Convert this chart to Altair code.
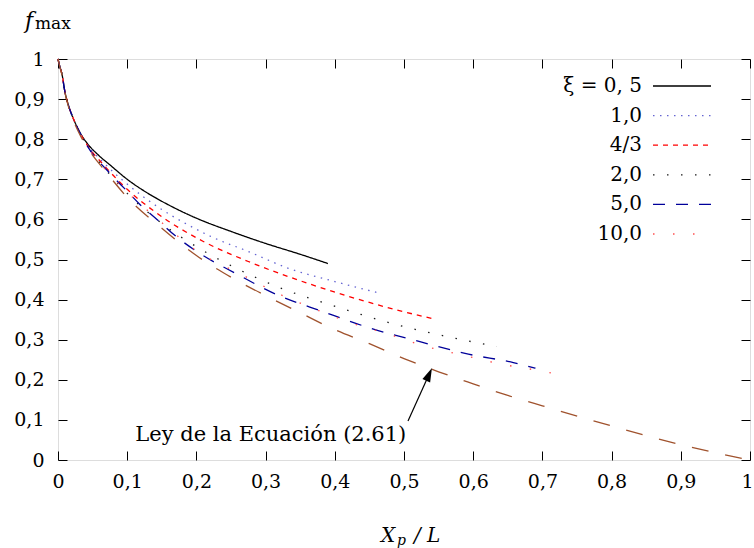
import altair as alt
import pandas as pd

# ---------------- data ----------------
xi_labels = ["ξ = 0, 5", "1,0", "4/3", "2,0", "5,0", "10,0"]
xi_colors = ["#000000", "#6464d2", "#ff0000", "#1a1a1a", "#00009a", "#ff5050"]
xi_dashes = [[1, 0], [1.5, 5.5], [5, 5], [1.5, 12.5], [12, 11], [1.5, 18.5]]

x_05 = [0, 0.002, 0.006, 0.01, 0.015, 0.022, 0.032, 0.042, 0.058, 0.075, 0.1, 0.13, 0.16, 0.2,
        0.25, 0.3, 0.35, 0.39]
y_05 = [1.0, 0.985, 0.96, 0.918, 0.885, 0.852, 0.816, 0.79, 0.761, 0.736, 0.7, 0.665, 0.636, 0.603,
        0.57, 0.54, 0.513, 0.49]

x_10 = [0, 0.002, 0.006, 0.01, 0.015, 0.022, 0.032, 0.042, 0.068, 0.1, 0.147, 0.184, 0.224, 0.275,
        0.333, 0.4, 0.465]
y_10 = [1.0, 0.985, 0.96, 0.918, 0.885, 0.852, 0.815, 0.788, 0.738, 0.688, 0.628, 0.59, 0.555, 0.52,
        0.478, 0.445, 0.416]

x_43 = [0, 0.002, 0.006, 0.01, 0.015, 0.022, 0.032, 0.042, 0.068, 0.1, 0.14, 0.21, 0.275, 0.35,
        0.42, 0.49, 0.54]
y_43 = [1.0, 0.985, 0.96, 0.918, 0.885, 0.852, 0.815, 0.786, 0.732, 0.675, 0.619, 0.545, 0.495, 0.447,
        0.408, 0.374, 0.353]

x_20 = [0, 0.002, 0.006, 0.01, 0.015, 0.022, 0.032, 0.042, 0.068, 0.1, 0.15, 0.217, 0.253, 0.326,
        0.403, 0.477, 0.556, 0.634]
y_20 = [1.0, 0.985, 0.96, 0.918, 0.885, 0.852, 0.815, 0.785, 0.726, 0.665, 0.59, 0.515, 0.482, 0.426,
        0.382, 0.343, 0.31, 0.283]

x_50 = [0, 0.002, 0.006, 0.01, 0.015, 0.022, 0.032, 0.042, 0.075, 0.099, 0.118, 0.143, 0.171, 0.205,
        0.256, 0.318, 0.383, 0.451, 0.523, 0.593, 0.658, 0.69]
y_50 = [1.0, 0.985, 0.96, 0.918, 0.885, 0.852, 0.815, 0.784, 0.715, 0.672, 0.638, 0.6, 0.557, 0.515,
        0.466, 0.411, 0.37, 0.329, 0.295, 0.264, 0.243, 0.229]

x_100 = [0, 0.002, 0.006, 0.01, 0.015, 0.022, 0.032, 0.042, 0.075, 0.1, 0.15, 0.2, 0.268, 0.316,
         0.369, 0.422, 0.477, 0.53, 0.586, 0.641, 0.698, 0.725]
y_100 = [1.0, 0.985, 0.96, 0.918, 0.885, 0.852, 0.815, 0.784, 0.712, 0.668, 0.592, 0.522, 0.46, 0.417,
         0.378, 0.343, 0.314, 0.284, 0.261, 0.239, 0.222, 0.213]

x_ley = [0, 0.002, 0.006, 0.01, 0.015, 0.022, 0.032, 0.042, 0.07, 0.1, 0.15, 0.2, 0.25, 0.3, 0.35,
         0.4, 0.45, 0.5, 0.55, 0.6, 0.65, 0.7, 0.8, 0.9, 1.0]
y_ley = [1.0, 0.985, 0.958, 0.916, 0.882, 0.848, 0.81, 0.78, 0.717, 0.655, 0.578, 0.51, 0.456, 0.41,
         0.367, 0.325, 0.29, 0.253, 0.22, 0.19, 0.161, 0.135, 0.085, 0.038, 0.0]

tick_values = [0, 0.1, 0.2, 0.3, 0.4, 0.5, 0.6, 0.7, 0.8, 0.9, 1.0]

annot_text = ["Ley de la Ecuación (2.61)"]
annot_xy = [0.3075, 0.062]
arrow_tail = [0.5058, 0.0973]
arrow_end = [0.5332, 0.202]
arrow_head = [0.5363, 0.2135]

# ---------------- tables ----------------
rows = []
for lab, xs, ys in zip(xi_labels, [x_05, x_10, x_43, x_20, x_50, x_100],
                       [y_05, y_10, y_43, y_20, y_50, y_100]):
    for i, (a, b) in enumerate(zip(xs, ys)):
        rows.append({"serie": lab, "x": a, "y": b, "ord": i})
df = pd.DataFrame(rows)
df_ley = pd.DataFrame({"x": x_ley, "y": y_ley, "ord": list(range(len(x_ley)))})
df_annot = pd.DataFrame({"x": [annot_xy[0]], "y": [annot_xy[1]], "t": annot_text})
df_arrow = pd.DataFrame({"x": [arrow_tail[0]], "y": [arrow_tail[1]],
                         "x2": [arrow_end[0]], "y2": [arrow_end[1]]})
df_head = pd.DataFrame({"x": [arrow_head[0]], "y": [arrow_head[1]]})

FONT = "DejaVu Serif"
xs_scale = alt.Scale(domain=[0, 1], nice=False, zero=False)
ys_scale = alt.Scale(domain=[0, 1], nice=False, zero=False)
fmt = "replace(format(datum.value, '.1~f'), '.', ',')"

x_axis = alt.Axis(values=tick_values, labelExpr=fmt, title=None, tickSize={"expr": "-9"},
                  labelPadding=21, domain=False, grid=False, labelFont=FONT, labelFontSize=19,
                  labelColor="black", tickColor="black", labelFlush=False, labelOverlap=False,
                  labelOffset={"condition": {"test": "datum.value == 1", "value": -3}, "value": 0})
y_axis = alt.Axis(values=tick_values, labelExpr=fmt, title=None, tickSize={"expr": "-9"},
                  labelPadding=23, domain=False, grid=False, labelFont=FONT, labelFontSize=19,
                  labelColor="black", tickColor="black", labelFlush=False, labelOverlap=False)
x_top = alt.Axis(values=tick_values, orient="top", labels=False, title=None, tickSize={"expr": "-9"},
                 domain=False, grid=False, tickColor="black")
y_right = alt.Axis(values=tick_values, orient="right", labels=False, title=None, tickSize={"expr": "-9"},
                   domain=False, grid=False, tickColor="black")

lines = alt.Chart(df).mark_line(strokeWidth=1.3, interpolate="monotone").encode(
    x=alt.X("x:Q", scale=xs_scale, axis=x_axis),
    y=alt.Y("y:Q", scale=ys_scale, axis=y_axis),
    color=alt.Color("serie:N", scale=alt.Scale(domain=xi_labels, range=xi_colors), legend=None),
    strokeDash=alt.StrokeDash("serie:N", scale=alt.Scale(domain=xi_labels, range=xi_dashes), legend=None),
    order="ord:Q",
)

ley = alt.Chart(df_ley).mark_line(strokeWidth=1.3, interpolate="monotone", color="#a0522d",
                                  strokeDash=[17, 17]).encode(
    x=alt.X("x:Q", scale=xs_scale, axis=x_top),
    y=alt.Y("y:Q", scale=ys_scale, axis=y_right),
    order="ord:Q",
)

annot = alt.Chart(df_annot).mark_text(font=FONT, fontSize=21, align="center", baseline="middle",
                                      color="black").encode(
    x=alt.X("x:Q", axis=None), y=alt.Y("y:Q", axis=None), text="t:N")

arrow = alt.Chart(df_arrow).mark_rule(color="black", strokeWidth=1.2).encode(
    x=alt.X("x:Q", axis=None), y=alt.Y("y:Q", axis=None), x2="x2:Q", y2="y2:Q")

head = alt.Chart(df_head).mark_point(shape="M0,-1L0.6,1L-0.6,1Z", filled=True, size=196, angle=24,
                                     color="black", opacity=1).encode(
    x=alt.X("x:Q", axis=None), y=alt.Y("y:Q", axis=None))

one = pd.DataFrame({"k": [0]})

# ---------------- legend (drawn as a key box in the top-right corner) ----------------
legend_layers = []
for i, (lab, col, dash) in enumerate(zip(xi_labels, xi_colors, xi_dashes)):
    row_y = 27 + 29.6 * i
    legend_layers.append(
        alt.Chart(one).mark_rule(color=col, strokeDash=dash, strokeWidth=1.3).encode(
            x=alt.value(595), x2=alt.value(653), y=alt.value(row_y))
    )
    legend_layers.append(
        alt.Chart(one).mark_text(text=lab, font=FONT, fontSize=20, align="right",
                                 baseline="middle", color="black").encode(
            x=alt.value(584), y=alt.value(row_y))
    )

t_f = alt.Chart(one).mark_text(text="f", font=FONT, fontStyle="italic", fontSize=22, align="center",
                               baseline="alphabetic", color="black").encode(
    x=alt.value(-29), y=alt.value(-31))
t_max = alt.Chart(one).mark_text(text="max", font=FONT, fontSize=17, align="left",
                                 baseline="alphabetic", color="black").encode(
    x=alt.value(-23), y=alt.value(-30))
t_X = alt.Chart(one).mark_text(text="X", font=FONT, fontStyle="italic", fontSize=20, align="left",
                               baseline="alphabetic", color="black").encode(
    x=alt.value(323), y=alt.value(483))
t_p = alt.Chart(one).mark_text(text="p", font=FONT, fontStyle="italic", fontSize=14, align="left",
                               baseline="alphabetic", color="black").encode(
    x=alt.value(339), y=alt.value(486))
t_L = alt.Chart(one).mark_text(text="/ L", font=FONT, fontStyle="italic", fontSize=20, align="left",
                               baseline="alphabetic", color="black").encode(
    x=alt.value(356), y=alt.value(483))

chart = alt.layer(lines, ley, annot, arrow, head, *legend_layers, t_f, t_max, t_X, t_p, t_L).resolve_axis(
    x="independent", y="independent"
).properties(
    width=692, height=401,
    autosize=alt.AutoSizeParams(type="none"),
    padding={"left": 58, "top": 59, "right": 4, "bottom": 88},
).configure_view(stroke="black", strokeWidth=1.4).configure(background="white")

chart.save("out.html", embed_options={"renderer": "svg", "actions": False})
